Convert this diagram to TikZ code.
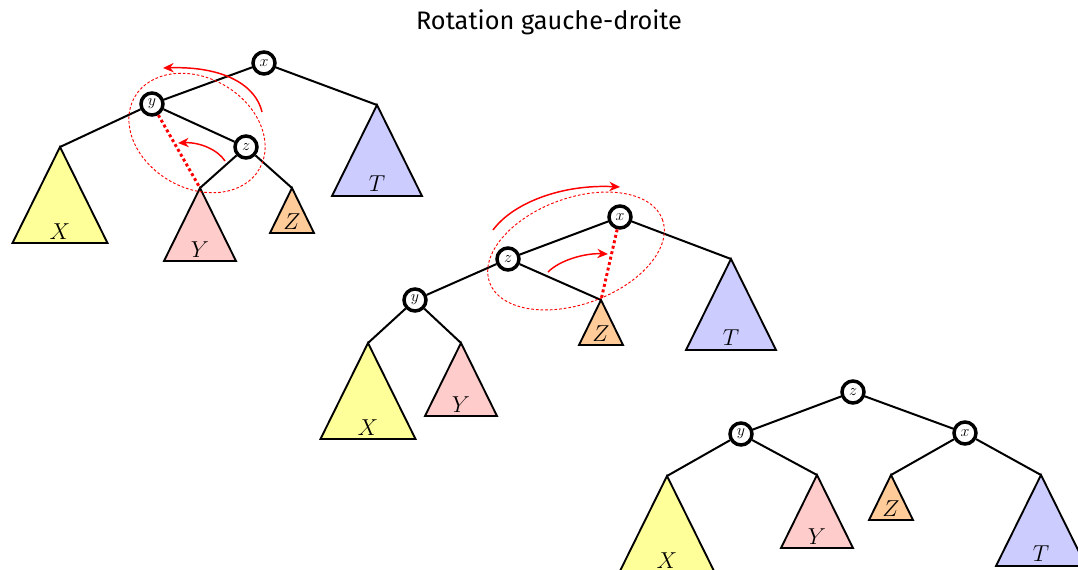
\documentclass[tikz,border=0pt]{standalone}
\usepackage{fontspec}
\newfontfamily\titlefont{Fira Sans}
\usetikzlibrary{arrows.meta}
\definecolor{cX}{RGB}{255,255,153}
\definecolor{cY}{RGB}{255,204,204}
\definecolor{cZ}{RGB}{255,204,153}
\definecolor{cT}{RGB}{204,204,255}
\tikzset{
  knot/.style={circle,draw=black,fill=white,line width=2.6pt,minimum size=16.5pt,inner sep=0pt,font=\fontsize{12}{12}\selectfont},
  edge/.style={line width=1.5pt},
  tri/.style={line width=1.4pt,draw=black,line join=miter},
  tlab/.style={font=\fontsize{16}{16}\selectfont,inner sep=0pt},
  rotline/.style={red,line width=2.2pt,dotted},
  rotell/.style={red,line width=0.7pt,dash pattern=on 2pt off 1.5pt},
  rotarr/.style={red,line width=1.1pt,-{Stealth[length=8pt,width=7pt]}},
}
\newcommand{\bigtri}[4]{% apex name, color, label, label name
  \path[tri,fill=#2] (#1) -- ++(-47.5,96) -- ++(95,0) -- cycle;
  \node[tlab] (#4) at ([yshift=-85*0.75pt]#1) {$#3$};}
\newcommand{\midtri}[4]{%
  \path[tri,fill=#2] (#1) -- ++(-36,73) -- ++(72,0) -- cycle;
  \node[tlab] (#4) at ([yshift=-62*0.75pt]#1) {$#3$};}
\newcommand{\smalltri}[4]{%
  \path[tri,fill=#2] (#1) -- ++(-22,45) -- ++(44,0) -- cycle;
  \node[tlab] (#4) at ([yshift=-34*0.75pt]#1) {$#3$};}
\newcommand{\ttri}[4]{%
  \path[tri,fill=#2] (#1) -- ++(-45,91) -- ++(90,0) -- cycle;
  \node[tlab] (#4) at ([yshift=-79*0.75pt]#1) {$#3$};}
\begin{document}
\begin{tikzpicture}[x=0.75pt,y=-0.75pt]
\path[use as bounding box] (0,0) rectangle (1078,570);
\clip (0,0) rectangle (1078,570);
\node[font=\titlefont\fontsize{19}{19}\selectfont] (title) at (549,22) {Rotation gauche-droite};

% ---------- tree 1 ----------
\coordinate (aX1) at (60,147);
\coordinate (aY1) at (200,188);
\coordinate (aZ1) at (292,188);
\coordinate (aT1) at (377,105);
\bigtri{aX1}{cX}{X}{lX1}
\midtri{aY1}{cY}{Y}{lY1}
\smalltri{aZ1}{cZ}{Z}{lZ1}
\ttri{aT1}{cT}{T}{lT1}
\node[knot] (x1) at (264,63) {$x$};
\node[knot] (y1) at (152,104) {$y$};
\node[knot] (z1) at (246,147) {$z$};
\draw[edge] (x1) -- (y1);
\draw[edge] (x1) -- (aT1);
\draw[edge] (y1) -- (aX1);
\draw[edge] (y1) -- (z1);
\draw[edge] (z1) -- (aY1);
\draw[edge] (z1) -- (aZ1);
\draw[rotline] (y1) -- (aY1);
\draw[rotell,rotate around={-30:(197,133)}] (197,133) ellipse (72 and 55);
\coordinate (s1a) at (262,112); \coordinate (e1a) at (163,68);
\draw[rotarr] (s1a) .. controls (256,86) and (225,66) .. (e1a);
\coordinate (s1b) at (225,161); \coordinate (e1b) at (178,143);
\draw[rotarr] (s1b) .. controls (218,150) and (200,142) .. (e1b);

% ---------- tree 2 ----------
\coordinate (aX2) at (368,343);
\coordinate (aY2) at (461,343);
\coordinate (aZ2) at (601,300);
\coordinate (aT2) at (731,259);
\bigtri{aX2}{cX}{X}{lX2}
\midtri{aY2}{cY}{Y}{lY2}
\smalltri{aZ2}{cZ}{Z}{lZ2}
\ttri{aT2}{cT}{T}{lT2}
\node[knot] (x2) at (620,217) {$x$};
\node[knot] (z2) at (508,259) {$z$};
\node[knot] (y2) at (415,300) {$y$};
\draw[edge] (x2) -- (z2);
\draw[edge] (x2) -- (aT2);
\draw[edge] (z2) -- (y2);
\draw[edge] (z2) -- (aZ2);
\draw[edge] (y2) -- (aX2);
\draw[edge] (y2) -- (aY2);
\draw[rotline] (x2) -- (aZ2);
\draw[rotell,rotate around={20:(576,251)}] (576,251) ellipse (92 and 53);
\coordinate (s2a) at (493,230); \coordinate (e2a) at (620,187);
\draw[rotarr] (s2a) .. controls (512,204) and (560,184) .. (e2a);
\coordinate (s2b) at (548,272); \coordinate (e2b) at (608,254);
\draw[rotarr] (s2b) .. controls (560,260) and (585,253) .. (e2b);

% ---------- tree 3 ----------
\coordinate (aX3) at (667,476);
\coordinate (aY3) at (817,475);
\coordinate (aZ3) at (891,475);
\coordinate (aT3) at (1041,475);
\bigtri{aX3}{cX}{X}{lX3}
\midtri{aY3}{cY}{Y}{lY3}
\smalltri{aZ3}{cZ}{Z}{lZ3}
\ttri{aT3}{cT}{T}{lT3}
\node[knot] (z3) at (853,392) {$z$};
\node[knot] (y3) at (741,434) {$y$};
\node[knot] (x3) at (965,433) {$x$};
\draw[edge] (z3) -- (y3);
\draw[edge] (z3) -- (x3);
\draw[edge] (y3) -- (aX3);
\draw[edge] (y3) -- (aY3);
\draw[edge] (x3) -- (aZ3);
\draw[edge] (x3) -- (aT3);
\end{tikzpicture}
\end{document}
